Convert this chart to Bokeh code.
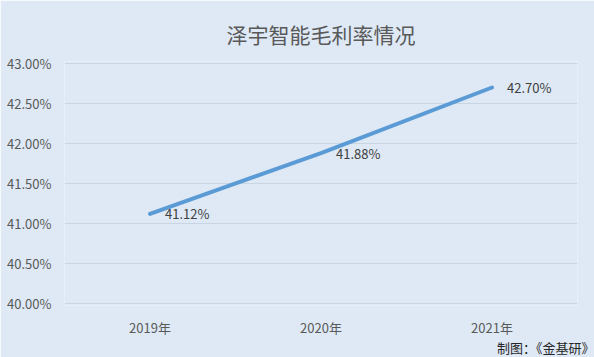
from bokeh.plotting import figure
from bokeh.models import Range1d, FactorRange, PrintfTickFormatter, Title, ColumnDataSource
from bokeh.core.properties import value
from bokeh.embed import file_html
from bokeh.resources import INLINE

categories = ["2019年", "2020年", "2021年"]
margins = [41.12, 41.88, 42.70]
labels = ["41.12%", "41.88%", "42.70%"]
y_ticks = [40.0, 40.5, 41.0, 41.5, 42.0, 42.5, 43.0]

BG = "#dee9f5"
FONT = "Noto Sans CJK SC"

p = figure(width=594, height=357, output_backend="svg", toolbar_location=None,
           x_range=FactorRange(*categories, range_padding=0),
           y_range=Range1d(40 - 0.025, 43 + 0.025),
           min_border_left=64, min_border_right=17, min_border_top=61, min_border_bottom=52)

p.background_fill_color = BG
p.border_fill_color = BG
p.outline_line_color = None

p.title = Title(text="泽宇智能毛利率情况", align="center", text_font=FONT,
                text_font_size="21px", text_font_style="normal", text_color="#595959",
                offset=0, standoff=26, text_line_height=1.0)

p.add_layout(Title(text="制图：《金基研》", align="right", text_font=FONT,
                   text_font_size="13px", text_font_style="normal", text_color="#262626",
                   standoff=-8, offset=-17, text_line_height=1.0), "below")

src = ColumnDataSource(dict(x=categories, y=margins, t=labels))
p.line("x", "y", source=src, line_color="#5b9bd5", line_width=4, line_cap="round")
p.text("x", "y", text="t", source=src, x_offset=15, text_align="left", text_baseline="middle",
       text_font=value(FONT), text_font_size="13px", text_color="#404040")

p.yaxis.ticker = y_ticks
p.yaxis.formatter = PrintfTickFormatter(format="%.2f%%")
for ax in (p.xaxis[0], p.yaxis[0]):
    ax.axis_line_color = None
    ax.major_tick_line_color = None
    ax.minor_tick_line_color = None
    ax.major_label_text_font = FONT
    ax.major_label_text_font_size = "13px"
    ax.major_label_text_color = "#595959"
p.yaxis.major_label_standoff = 7
p.xaxis.major_label_standoff = 6

p.xgrid.grid_line_color = None
p.ygrid.grid_line_color = "#c9d5e3"
p.ygrid.grid_line_width = 1

open("out.html", "w").write(file_html(p, INLINE))
